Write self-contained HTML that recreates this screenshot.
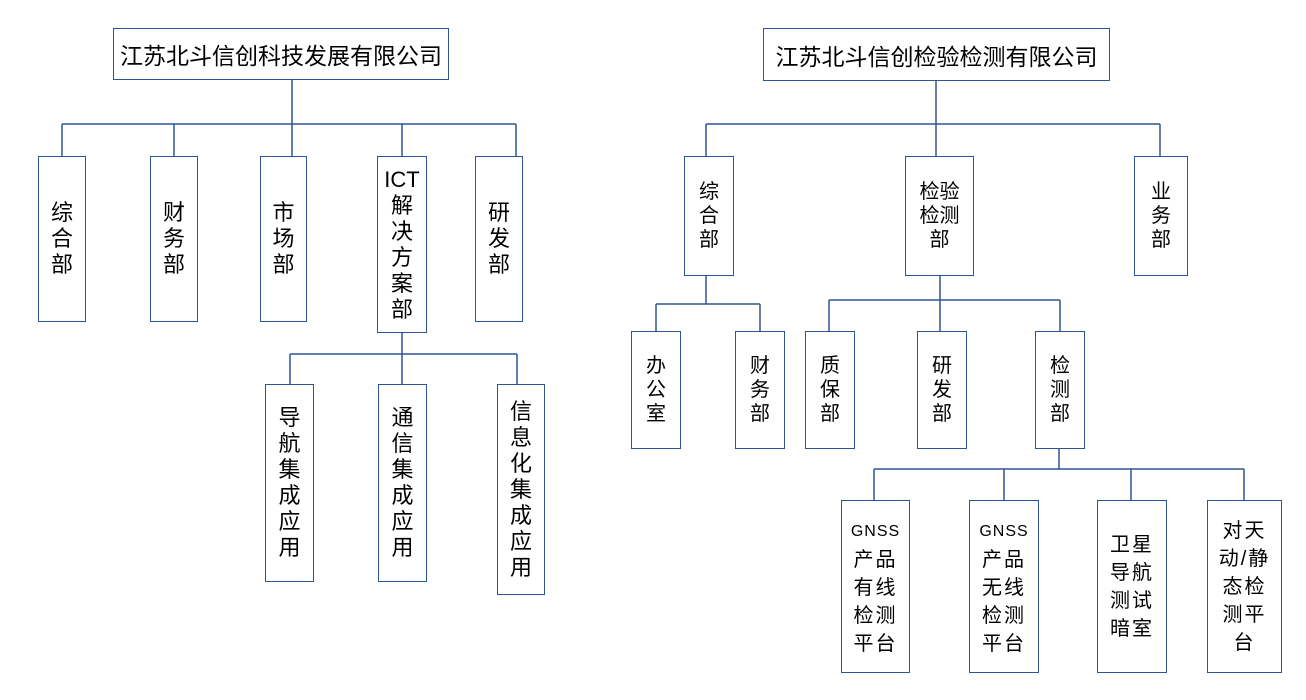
<!DOCTYPE html>
<html><head><meta charset="utf-8"><style>
body{margin:0;width:1306px;height:700px;background:#fff;position:relative;overflow:hidden;font-family:"Liberation Sans","Noto Sans CJK SC",sans-serif;color:#000}
.b{position:absolute;box-sizing:border-box;border:1.5px solid #2F5597;display:flex;align-items:center;justify-content:center;text-align:center;background:#fff}
.l{font-size:22px;line-height:26px}
.r{font-size:20px;line-height:24px}
.t{font-size:23px;white-space:nowrap}
.g{font-size:16px;letter-spacing:1px}
.w{letter-spacing:2px}
svg{position:absolute;left:0;top:0}
</style></head><body>
<svg width="1306" height="700"><g stroke="#2F5597" stroke-width="1.5" fill="none">
<path d="M292 79V124M62 124H516M62 124V156M174 124V156M292 124V156M402 124V156M516 124V156"/>
<path d="M402 332V354M290 354H517M290 354V384M402 354V384M517 354V384"/>
<path d="M936 80V124M706 124H1160M706 124V156M936 124V156M1160 124V156"/>
<path d="M706 275V304M656 304H760M656 304V331M760 304V331"/>
<path d="M940 275V300M829 300H1060M829 300V331M940 300V331M1060 300V331"/>
<path d="M1059 448V469M874 469H1244M874 469V500M1004 469V500M1131 469V500M1244 469V500"/>
</g></svg>
<div class="b t" style="left:113px;top:28px;width:336px;height:52px">江苏北斗信创科技发展有限公司</div>
<div class="b l" style="left:38px;top:156px;width:48px;height:166px">综<br>合<br>部</div>
<div class="b l" style="left:150px;top:156px;width:48px;height:166px">财<br>务<br>部</div>
<div class="b l" style="left:260px;top:156px;width:47px;height:166px">市<br>场<br>部</div>
<div class="b l" style="left:377px;top:156px;width:50px;height:177px">ICT<br>解<br>决<br>方<br>案<br>部</div>
<div class="b l" style="left:475px;top:156px;width:48px;height:166px">研<br>发<br>部</div>
<div class="b l" style="left:265px;top:384px;width:49px;height:198px">导<br>航<br>集<br>成<br>应<br>用</div>
<div class="b l" style="left:378px;top:384px;width:49px;height:198px">通<br>信<br>集<br>成<br>应<br>用</div>
<div class="b l" style="left:497px;top:384px;width:48px;height:211px">信<br>息<br>化<br>集<br>成<br>应<br>用</div>

<div class="b t" style="left:763px;top:28px;width:347px;height:53px">江苏北斗信创检验检测有限公司</div>
<div class="b r" style="left:684px;top:156px;width:50px;height:120px">综<br>合<br>部</div>
<div class="b r" style="left:905px;top:156px;width:69px;height:120px">检验<br>检测<br>部</div>
<div class="b r" style="left:1134px;top:156px;width:54px;height:120px">业<br>务<br>部</div>
<div class="b r" style="left:631px;top:331px;width:50px;height:118px">办<br>公<br>室</div>
<div class="b r" style="left:735px;top:331px;width:50px;height:118px">财<br>务<br>部</div>
<div class="b r" style="left:805px;top:331px;width:50px;height:118px">质<br>保<br>部</div>
<div class="b r" style="left:917px;top:331px;width:50px;height:118px">研<br>发<br>部</div>
<div class="b r" style="left:1035px;top:331px;width:50px;height:118px">检<br>测<br>部</div>
<div class="b r w" style="left:841px;top:500px;width:69px;height:173px;line-height:28px"><div><span class="g">GNSS</span><br>产品<br>有线<br>检测<br>平台</div></div>
<div class="b r w" style="left:969px;top:500px;width:70px;height:173px;line-height:28px"><div><span class="g">GNSS</span><br>产品<br>无线<br>检测<br>平台</div></div>
<div class="b r w" style="left:1097px;top:500px;width:70px;height:173px;line-height:28px">卫星<br>导航<br>测试<br>暗室</div>
<div class="b r w" style="left:1207px;top:500px;width:75px;height:173px;line-height:28px">对天<br>动/静<br>态检<br>测平<br>台</div>
</body></html>
